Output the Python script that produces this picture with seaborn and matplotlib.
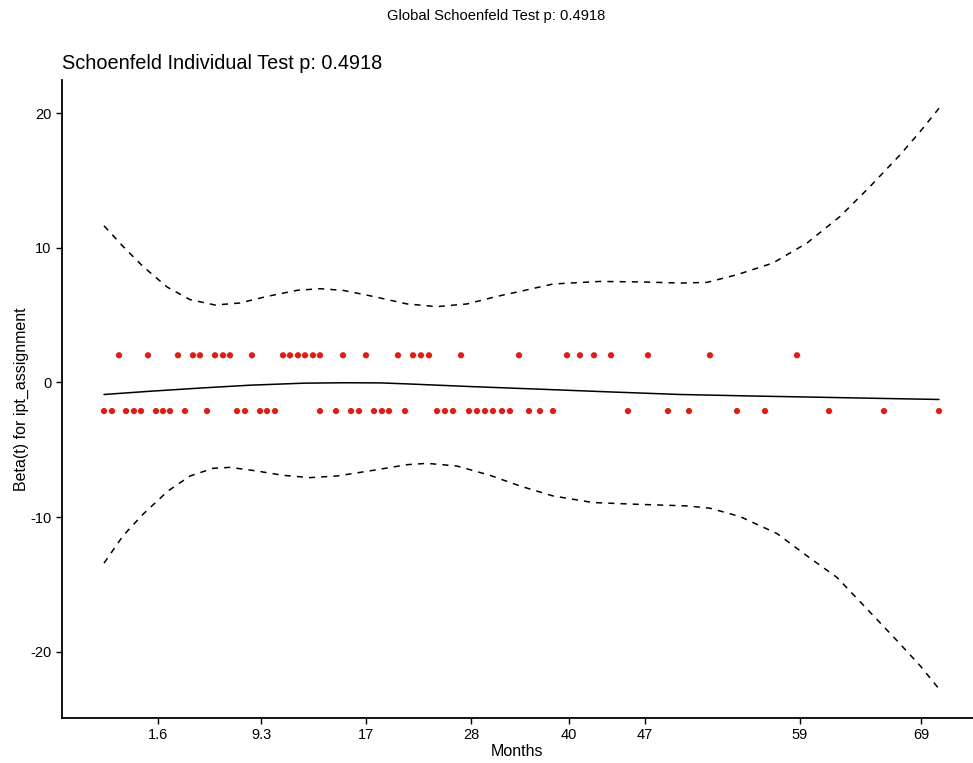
import numpy as np
import pandas as pd
import matplotlib
matplotlib.use("Agg")
import matplotlib.pyplot as plt
import seaborn as sns

# x positions are on the transformed (KM) time axis, in plot units
tick_pos = [158, 261, 366, 471, 569, 645, 800, 921]
tick_labels = ["1.6", "9.3", "17", "28", "40", "47", "59", "69"]

# scaled Schoenfeld residuals for ipt_assignment
upper_x = [119, 148, 178, 193, 200, 215, 223, 230, 252, 283, 290, 298, 305, 313,
           320, 343, 366, 398, 413, 421, 429, 461, 519, 567, 580, 594, 611, 648,
           710, 797]
upper_beta = 2.02
lower_x = [104, 112, 126, 134, 141, 156, 163, 170, 185, 207, 237, 245, 260, 267,
           275, 320, 336, 351, 359, 374, 382, 389, 405, 437, 445, 453, 469, 477,
           485, 493, 502, 510, 529, 540, 553, 628, 668, 689, 737, 765, 829, 884,
           939]
lower_beta = -2.12

# smoothed beta(t) and its confidence band
fit_x = [104, 150, 203, 250, 304, 344, 380, 406, 470, 541, 610, 680, 750, 823, 880, 939]
fit_y = [-0.89, -0.65, -0.40, -0.20, -0.05, -0.02, -0.03, -0.10, -0.30, -0.50,
         -0.70, -0.89, -1.00, -1.10, -1.18, -1.26]

ci_up_x = [104, 123, 143, 167, 190, 215, 240, 267, 297, 320, 343, 373, 407, 437,
           467, 497, 520, 553, 600, 643, 680, 707, 737, 773, 807, 840, 870, 900,
           920, 939]
ci_up_y = [11.63, 10.10, 8.61, 7.09, 6.15, 5.75, 5.90, 6.39, 6.84, 6.96, 6.84,
           6.39, 5.83, 5.63, 5.83, 6.39, 6.76, 7.31, 7.50, 7.46, 7.38, 7.43, 8.00,
           8.87, 10.35, 12.32, 14.54, 16.89, 18.61, 20.35]

ci_lo_x = [104, 123, 143, 168, 190, 213, 230, 257, 283, 310, 337, 373, 407, 427,
           457, 490, 520, 553, 593, 637, 687, 710, 740, 777, 807, 837, 867, 897,
           920, 939]
ci_lo_y = [-13.41, -11.38, -9.78, -8.05, -6.94, -6.37, -6.30, -6.57, -6.89, -7.06,
           -6.94, -6.52, -6.10, -6.00, -6.20, -6.89, -7.68, -8.42, -8.91, -9.04,
           -9.16, -9.33, -9.95, -11.21, -12.87, -14.47, -16.81, -19.16, -21.01,
           -22.74]

points = pd.DataFrame({
    "km_time": upper_x + lower_x,
    "beta": [upper_beta] * len(upper_x) + [lower_beta] * len(lower_x),
})

sns.set_theme(style="ticks")
plt.rcParams["font.family"] = ["Liberation Sans", "DejaVu Sans"]
plt.rcParams["axes.unicode_minus"] = False
plt.rcParams["text.color"] = "black"
plt.rcParams["axes.labelcolor"] = "black"

fig = plt.figure(figsize=(9.73, 7.63), dpi=100)
ax = fig.add_axes([62 / 973, 45 / 763, 1 - 62 / 973, 638 / 763])

sns.scatterplot(data=points, x="km_time", y="beta", color="#e8190f", s=20,
                edgecolor="none", ax=ax, zorder=3)
sns.lineplot(x=fit_x, y=fit_y, color="black", linewidth=1.1, ax=ax)
sns.lineplot(x=ci_up_x, y=ci_up_y, color="black", linewidth=1.1, ax=ax)
sns.lineplot(x=ci_lo_x, y=ci_lo_y, color="black", linewidth=1.1, ax=ax)
ax.lines[1].set_linestyle((0, (4, 4)))
ax.lines[2].set_linestyle((0, (4, 4)))

ax.set_xlim(62, 973)
ax.set_ylim(-24.9, 22.45)
ax.set_xticks(tick_pos)
ax.set_xticklabels(tick_labels)
ax.set_yticks([-20, -10, 0, 10, 20])
ax.tick_params(axis="both", labelsize=10.5, length=4, width=1, color="black",
               labelcolor="black", direction="out")
for s in ["left", "bottom"]:
    ax.spines[s].set_linewidth(1.3)
    ax.spines[s].set_color("black")
sns.despine(ax=ax)

ax.set_xlabel("Months", fontsize=11.5, labelpad=1, color="black")
ax.set_ylabel("Beta(t) for ipt_assignment", fontsize=11.5, labelpad=1, color="black")
ax.set_title("Schoenfeld Individual Test p: 0.4918", loc="left", fontsize=14.3,
             pad=8, color="black")
fig.suptitle("Global Schoenfeld Test p: 0.4918", fontsize=10.6, y=1 - 16 / 763,
             va="center", x=0.51, color="black")

fig.savefig("out.png", dpi=100)
